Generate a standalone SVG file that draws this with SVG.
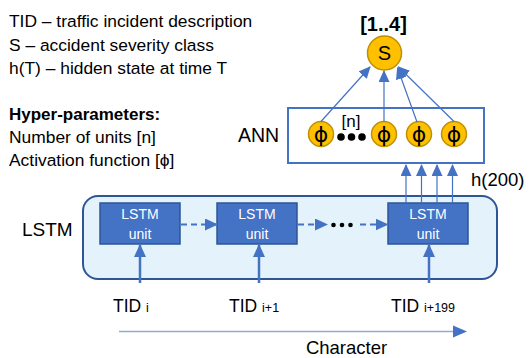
<svg xmlns="http://www.w3.org/2000/svg" width="530" height="358" viewBox="0 0 530 358">
<defs>
<style>
.t{font-family:"Liberation Sans",Arial,sans-serif;fill:#000}
.lg{font-size:17.4px}
.unit{fill:#4472C4;stroke:#2F5597;stroke-width:1.5}
.ut{font-family:"Liberation Sans",Arial,sans-serif;font-size:14px;fill:#fff;text-anchor:middle}
.phi{fill:#FFC000;stroke:#BF9000;stroke-width:1.5}
.pt{font-family:"DejaVu Sans",sans-serif;font-size:22px;text-anchor:middle;fill:#000}
.thin{stroke:#4472C4;stroke-width:1.2;fill:none}
.thick{stroke:#4472C4;stroke-width:2.5;fill:none}
.dash{stroke:#4472C4;stroke-width:2;fill:none;stroke-dasharray:6 4}
</style>
<marker id="ah" markerUnits="userSpaceOnUse" markerWidth="12" markerHeight="11" refX="11" refY="5.5" orient="auto">
<path d="M0,0 L12,5.5 L0,11 z" fill="#4472C4"/>
</marker>
<marker id="ab" markerUnits="userSpaceOnUse" markerWidth="13" markerHeight="12" refX="12" refY="6" orient="auto">
<path d="M0,0 L13,6 L0,12 z" fill="#4472C4"/>
</marker>
</defs>
<rect width="530" height="358" fill="#fff"/>

<g id="legend">
<text class="t lg" x="9" y="27">TID – traffic incident description</text>
<text class="t lg" x="9" y="50.5">S – accident severity class</text>
<text class="t lg" x="9" y="74">h(T) – hidden state at time T</text>
<text class="t" x="9" y="119.5" font-size="17" font-weight="bold">Hyper-parameters:</text>
<text class="t lg" x="9" y="142.5">Number of units [n]</text>
<text class="t lg" x="9" y="165.5">Activation function [ϕ]</text>
</g>

<g id="output">
<text class="t" x="383.5" y="31" font-size="20" font-weight="bold" text-anchor="middle">[1..4]</text>
<circle cx="384.5" cy="53" r="17" class="phi"/>
<text class="t" x="384.5" y="60" font-size="20" text-anchor="middle">S</text>
</g>

<g id="ann">
<text class="t" x="238" y="142" font-size="19.5">ANN</text>
<rect x="288" y="108" width="196" height="55" fill="#fff" stroke="#4472C4" stroke-width="2"/>
<text class="t" x="351" y="127" font-size="17" text-anchor="middle">[n]</text>
<circle cx="341" cy="137" r="3.8" fill="#000"/>
<circle cx="351.5" cy="137" r="3.8" fill="#000"/>
<circle cx="362" cy="137" r="3.8" fill="#000"/>
<g id="phi1"><circle cx="321" cy="134" r="12.5" class="phi"/><text class="pt" x="321" y="142">ϕ</text></g>
<g id="phi2"><circle cx="384" cy="134" r="12.5" class="phi"/><text class="pt" x="384" y="142">ϕ</text></g>
<g id="phi3"><circle cx="419" cy="134" r="12.5" class="phi"/><text class="pt" x="419" y="142">ϕ</text></g>
<g id="phi4"><circle cx="454" cy="134" r="12.5" class="phi"/><text class="pt" x="454" y="142">ϕ</text></g>
</g>

<g id="lstm">
<text class="t" x="22" y="236" font-size="19">LSTM</text>
<rect x="83" y="196" width="414" height="83" rx="15" ry="15" fill="#E3F2FB" stroke="#2F5597" stroke-width="2"/>
<g id="unit1"><rect class="unit" x="100" y="203" width="80" height="41"/><text class="ut" x="140" y="219">LSTM</text><text class="ut" x="140" y="238.5">unit</text></g>
<g id="unit2"><rect class="unit" x="217" y="203" width="80" height="41"/><text class="ut" x="257" y="219">LSTM</text><text class="ut" x="257" y="238.5">unit</text></g>
<g id="unit3"><rect class="unit" x="388" y="203" width="80" height="41"/><text class="ut" x="428" y="219">LSTM</text><text class="ut" x="428" y="238.5">unit</text></g>
<circle cx="333.5" cy="225" r="2.3" fill="#000"/>
<circle cx="342" cy="225" r="2.3" fill="#000"/>
<circle cx="350.5" cy="225" r="2.3" fill="#000"/>
</g>

<g id="connectors">
<line class="thin" x1="321" y1="121.5" x2="370" y2="67" marker-end="url(#ah)"/>
<line class="thin" x1="384" y1="121.5" x2="384" y2="71" marker-end="url(#ah)"/>
<line class="thin" x1="417" y1="122" x2="397.5" y2="68" marker-end="url(#ah)"/>
<line class="thin" x1="454" y1="121.5" x2="398.5" y2="67" marker-end="url(#ah)"/>
<line class="thin" x1="406" y1="203" x2="406" y2="165" marker-end="url(#ah)"/>
<line class="thin" x1="421.5" y1="203" x2="421.5" y2="165" marker-end="url(#ah)"/>
<line class="thin" x1="437" y1="203" x2="437" y2="165" marker-end="url(#ah)"/>
<line class="thin" x1="452.5" y1="203" x2="452.5" y2="165" marker-end="url(#ah)"/>
<line class="dash" x1="181" y1="224.5" x2="217" y2="224.5" marker-end="url(#ab)"/>
<line class="dash" x1="298" y1="224.5" x2="327" y2="224.5" marker-end="url(#ab)"/>
<line class="dash" x1="360" y1="224.5" x2="387.5" y2="224.5" marker-end="url(#ab)"/>
<line class="thick" x1="140" y1="283" x2="140" y2="245" marker-end="url(#ab)"/>
<line class="thick" x1="259" y1="283" x2="259" y2="245" marker-end="url(#ab)"/>
<line class="thick" x1="429" y1="283" x2="429" y2="245" marker-end="url(#ab)"/>
<line x1="119" y1="331.5" x2="455" y2="331.5" stroke="#8FAADC" stroke-width="1.6"/>
<path d="M453,325.5 L467,331.5 L453,337.5 z" fill="#4472C4"/>
</g>

<g id="labels">
<text class="t" x="471" y="186" font-size="18.5">h(200)</text>
<text class="t" x="113" y="312" font-size="17.5">TID <tspan font-size="12.5">i</tspan></text>
<text class="t" x="229" y="312" font-size="17.5">TID <tspan font-size="12.5">i+1</tspan></text>
<text class="t" x="391" y="312" font-size="17.5">TID <tspan font-size="12.5">i+199</tspan></text>
<text class="t" x="346.5" y="353.5" font-size="18.5" text-anchor="middle">Character</text>
</g>
</svg>
